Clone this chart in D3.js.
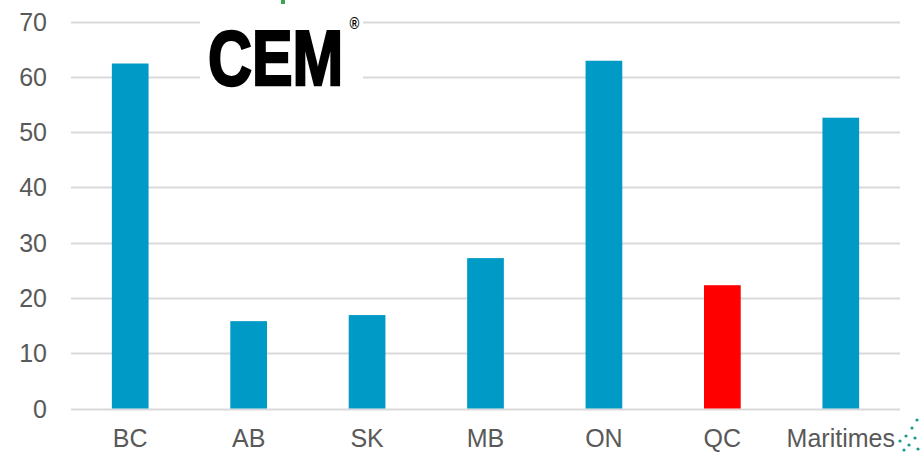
<!DOCTYPE html>
<html>
<head>
<meta charset="utf-8">
<script src="https://cdn.jsdelivr.net/npm/d3@7"></script>
<style>
  html, body { margin: 0; padding: 0; background: #fff; }
  svg { display: block; font-family: "Liberation Sans", Arial, sans-serif; }
</style>
</head>
<body>
<svg></svg>
<script>
"use strict";

var regions = ["BC", "AB", "SK", "MB", "ON", "QC", "Maritimes"];
var values = [62.4, 15.8, 16.9, 27.2, 62.9, 22.3, 52.6];
var highlight = ["QC"];
var yTicks = [0, 10, 20, 30, 40, 50, 60, 70];

var width = 920,
    height = 452;

var svg = d3.select("svg")
    .attr("width", width)
    .attr("height", height);

var x = d3.scaleBand()
    .domain(regions)
    .range([71, 900])
    .paddingInner(0.69)
    .paddingOuter(0.345);

var y = d3.scaleLinear()
    .domain([0, 70])
    .range([408.5, 21.5]);

// gridlines
svg.append("g")
    .selectAll("line")
    .data(yTicks)
    .enter()
    .append("line")
    .attr("x1", 71)
    .attr("x2", 900)
    .attr("y1", function (d) { return Math.round(y(d)) + 0.5; })
    .attr("y2", function (d) { return Math.round(y(d)) + 0.5; })
    .attr("stroke", "#d9d9d9")
    .attr("stroke-width", 2);

// y axis labels
var yAxis = svg.append("g")
    .attr("transform", "translate(47,0)")
    .call(d3.axisLeft(y).tickValues(yTicks).tickSize(0).tickPadding(0));
yAxis.select(".domain").remove();
yAxis.selectAll("text")
    .attr("fill", "#595959")
    .attr("dy", "0.34em")
    .style("font-size", "25px")
    .style("font-family", "'Liberation Sans', Arial, sans-serif");

// bars
svg.append("g")
    .selectAll("rect")
    .data(regions)
    .enter()
    .append("rect")
    .attr("x", function (d) { return x(d); })
    .attr("width", x.bandwidth())
    .attr("y", function (d, i) { return y(values[i]); })
    .attr("height", function (d, i) { return y(0) - y(values[i]); })
    .attr("fill", function (d) { return highlight.indexOf(d) >= 0 ? "#ff0000" : "#009ac6"; });

// x axis labels
var xAxis = svg.append("g")
    .attr("transform", "translate(0,409)")
    .call(d3.axisBottom(x).tickSize(0).tickPadding(0));
xAxis.select(".domain").remove();
xAxis.selectAll("text")
    .attr("fill", "#595959")
    .attr("y", 38)
    .attr("dy", null)
    .style("font-size", "25px")
    .style("font-family", "'Liberation Sans', Arial, sans-serif");

// logo box over the gridlines
svg.append("rect")
    .attr("x", 200)
    .attr("y", 0)
    .attr("width", 163)
    .attr("height", 96)
    .attr("fill", "#fff");

svg.append("rect")
    .attr("x", 281)
    .attr("y", 0)
    .attr("width", 4)
    .attr("height", 4)
    .attr("fill", "#3aa655");

// logo text, squeezed horizontally
var logo = svg.append("text")
    .attr("transform", "translate(208,85) scale(0.78,1)")
    .style("font-family", "'Liberation Sans', Arial, sans-serif")
    .style("font-weight", "bold")
    .style("font-size", "78px")
    .attr("fill", "#000");
logo.append("tspan")
    .attr("stroke", "#000")
    .attr("stroke-width", 2.5)
    .text("CEM");
logo.append("tspan")
    .attr("dx", 8)
    .attr("dy", -56)
    .style("font-size", "17px")
    .text("®");

// corner dots
var dots = [[917, 420], [912, 428], [906, 436], [900, 441], [915, 438], [909, 445], [918, 449], [904, 450]];
svg.append("g")
    .selectAll("circle")
    .data(dots)
    .enter()
    .append("circle")
    .attr("cx", function (d) { return d[0]; })
    .attr("cy", function (d) { return d[1]; })
    .attr("r", 1.6)
    .attr("fill", "#1a9a8a");
</script>
</body>
</html>
